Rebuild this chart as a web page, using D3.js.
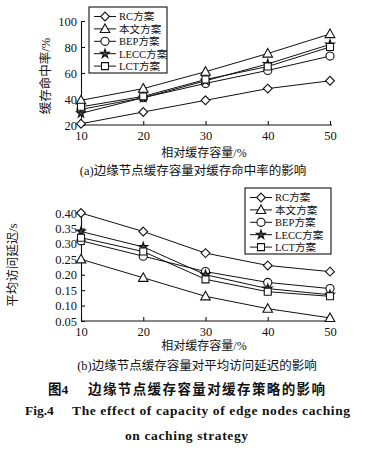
<!DOCTYPE html>
<html>
<head>
<meta charset="utf-8">
<script src="https://cdn.jsdelivr.net/npm/d3@7"></script>
<style>
  body { margin: 0; background: #fff; }
  svg { display: block; }
  text { font-family: "Liberation Serif", "Times New Roman", "Noto Sans CJK SC", serif; fill: #111; }
</style>
</head>
<body>
<svg id="fig" width="373" height="450"></svg>
<script>
// data
var capacity = [10, 20, 30, 40, 50];
var seriesNames = ['RC方案', '本文方案', 'BEP方案', 'LECC方案', 'LCT方案'];
var seriesShapes = ['diamond', 'triangle', 'circle', 'star', 'square'];

// (a) cache hit ratio /%
var hitRC   = [21, 30, 39, 48, 54];
var hitOurs = [39, 48, 61, 75, 90];
var hitBEP  = [32, 41, 52, 62, 73];
var hitLECC = [29, 41, 54, 67, 82];
var hitLCT  = [34, 42, 55, 65, 80];
var hitTicks = [20, 40, 60, 80, 100];

// (b) average access delay /s
var delayRC   = [0.40, 0.34, 0.27, 0.23, 0.21];
var delayOurs = [0.25, 0.19, 0.13, 0.09, 0.06];
var delayBEP  = [0.31, 0.26, 0.21, 0.175, 0.155];
var delayLECC = [0.34, 0.29, 0.20, 0.155, 0.135];
var delayLCT  = [0.32, 0.275, 0.185, 0.145, 0.13];
var delayTicks = [0.05, 0.10, 0.15, 0.20, 0.25, 0.30, 0.35, 0.40];

var svg = d3.select('#fig');

function markerPath(shape) {
  if (shape === 'diamond') return 'M0,-4.4L4.4,0L0,4.4L-4.4,0Z';
  if (shape === 'square') return 'M-3.5,-3.5H3.5V3.5H-3.5Z';
  if (shape === 'triangle') return 'M0,-5L4.8,3.6H-4.8Z';
  if (shape === 'circle') return d3.symbol(d3.symbolCircle, 52)();
  return d3.symbol(d3.symbolStar, 24)();
}

function drawMarker(g, shape, x, y) {
  g.append('path')
    .attr('d', markerPath(shape))
    .attr('transform', `translate(${x},${y})`)
    .style('fill', shape === 'star' ? '#444' : '#fff')
    .style('stroke', '#111')
    .style('stroke-width', 1.1);
}

function drawPanel(opt) {
  const g = svg.append('g');
  const xScale = d3.scaleLinear().domain([10, 50]).range([81, 330]);
  const yScale = d3.scaleLinear().domain(opt.yDomain).range(opt.yRange);

  const xAxis = d3.axisBottom(xScale).tickValues(capacity).tickSize(-4).tickSizeOuter(0).tickPadding(6);
  const yAxis = d3.axisLeft(yScale).tickValues(opt.ticks).tickSize(-4).tickSizeOuter(0).tickPadding(4)
    .tickFormat(opt.fmt);

  const gx = g.append('g').attr('transform', `translate(0,${yScale(opt.yDomain[0])})`).call(xAxis);
  const gy = g.append('g').attr('transform', `translate(81,0)`).call(yAxis);
  [gx, gy].forEach(a => {
    a.selectAll('path, line').style('stroke', '#111').style('stroke-width', 1.1);
    a.selectAll('text').style('font-size', '12.5px').style('fill', '#111')
      .style('font-family', '"Liberation Serif", serif');
  });
  gx.select('.domain').attr('d', `M81,0H332`);

  opt.series.forEach((vals, i) => {
    const line = d3.line().x((d, j) => xScale(capacity[j])).y(d => yScale(d));
    g.append('path').datum(vals).attr('d', line)
      .style('fill', 'none').style('stroke', '#111').style('stroke-width', 1);
  });
  opt.series.forEach((vals, i) => {
    vals.forEach((v, j) => drawMarker(g, seriesShapes[i], xScale(capacity[j]), yScale(v)));
  });

  // legend
  const lg = g.append('g').attr('transform', `translate(${opt.legend[0]},${opt.legend[1]})`);
  lg.append('rect').attr('x', 0).attr('y', 0).attr('width', opt.legend[2]).attr('height', 66)
    .style('fill', '#fff').style('stroke', '#111').style('stroke-width', 1.1);
  seriesNames.forEach((name, i) => {
    const yy = 9.5 + i * 12.4;
    lg.append('line').attr('x1', 5).attr('x2', 27).attr('y1', yy).attr('y2', yy)
      .style('stroke', '#111').style('stroke-width', 1);
    drawMarker(lg, seriesShapes[i], 16, yy);
    lg.append('text').attr('x', 30).attr('y', yy + 3.8).style('font-size', '10.6px').text(name);
  });

  // axis titles
  g.append('text').attr('transform', `translate(${opt.ylab[0]},${opt.ylab[1]}) rotate(-90)`)
    .style('text-anchor', 'middle').style('font-size', '12.5px').text(opt.ylabText);
  g.append('text').attr('x', 204).attr('y', opt.xlabY)
    .style('text-anchor', 'middle').style('font-size', '12px').text('相对缓存容量/%');
  g.append('text').attr('x', opt.capX).attr('y', opt.capY)
    .style('text-anchor', 'middle').style('font-size', '12.5px').text(opt.caption);
}

drawPanel({
  yDomain: [20, 100], yRange: [125, 21], ticks: hitTicks, fmt: d3.format('d'),
  series: [hitRC, hitOurs, hitBEP, hitLECC, hitLCT],
  legend: [89, 7, 78],
  ylab: [50, 76], ylabText: '缓存命中率/%',
  xlabY: 157, capX: 193, capY: 175,
  caption: '(a)边缘节点缓存容量对缓存命中率的影响'
});

drawPanel({
  yDomain: [0.05, 0.40], yRange: [321, 213], ticks: delayTicks, fmt: d3.format('.2f'),
  series: [delayRC, delayOurs, delayBEP, delayLECC, delayLCT],
  legend: [245, 188, 86],
  ylab: [17, 265], ylabText: '平均访问延迟/s',
  xlabY: 350, capX: 197, capY: 370,
  caption: '(b)边缘节点缓存容量对平均访问延迟的影响'
});

// figure titles
svg.append('text').attr('x', 48).attr('y', 394).style('font-size', '13.5px').style('font-weight', 'bold').text('图4');
svg.append('text').attr('x', 88).attr('y', 394).attr('textLength', 237).attr('lengthAdjust', 'spacing')
  .style('font-size', '13.5px').style('font-weight', 'bold').text('边缘节点缓存容量对缓存策略的影响');
svg.append('text').attr('x', 25).attr('y', 415).style('font-size', '13.5px').style('font-weight', 'bold').text('Fig.4');
svg.append('text').attr('x', 72).attr('y', 415).attr('textLength', 278).attr('lengthAdjust', 'spacing')
  .style('font-size', '13.5px').style('font-weight', 'bold').text('The effect of capacity of edge nodes caching');
svg.append('text').attr('x', 125).attr('y', 440).attr('textLength', 123).attr('lengthAdjust', 'spacing')
  .style('font-size', '13.5px').style('font-weight', 'bold').text('on caching strategy');
</script>
</body>
</html>
